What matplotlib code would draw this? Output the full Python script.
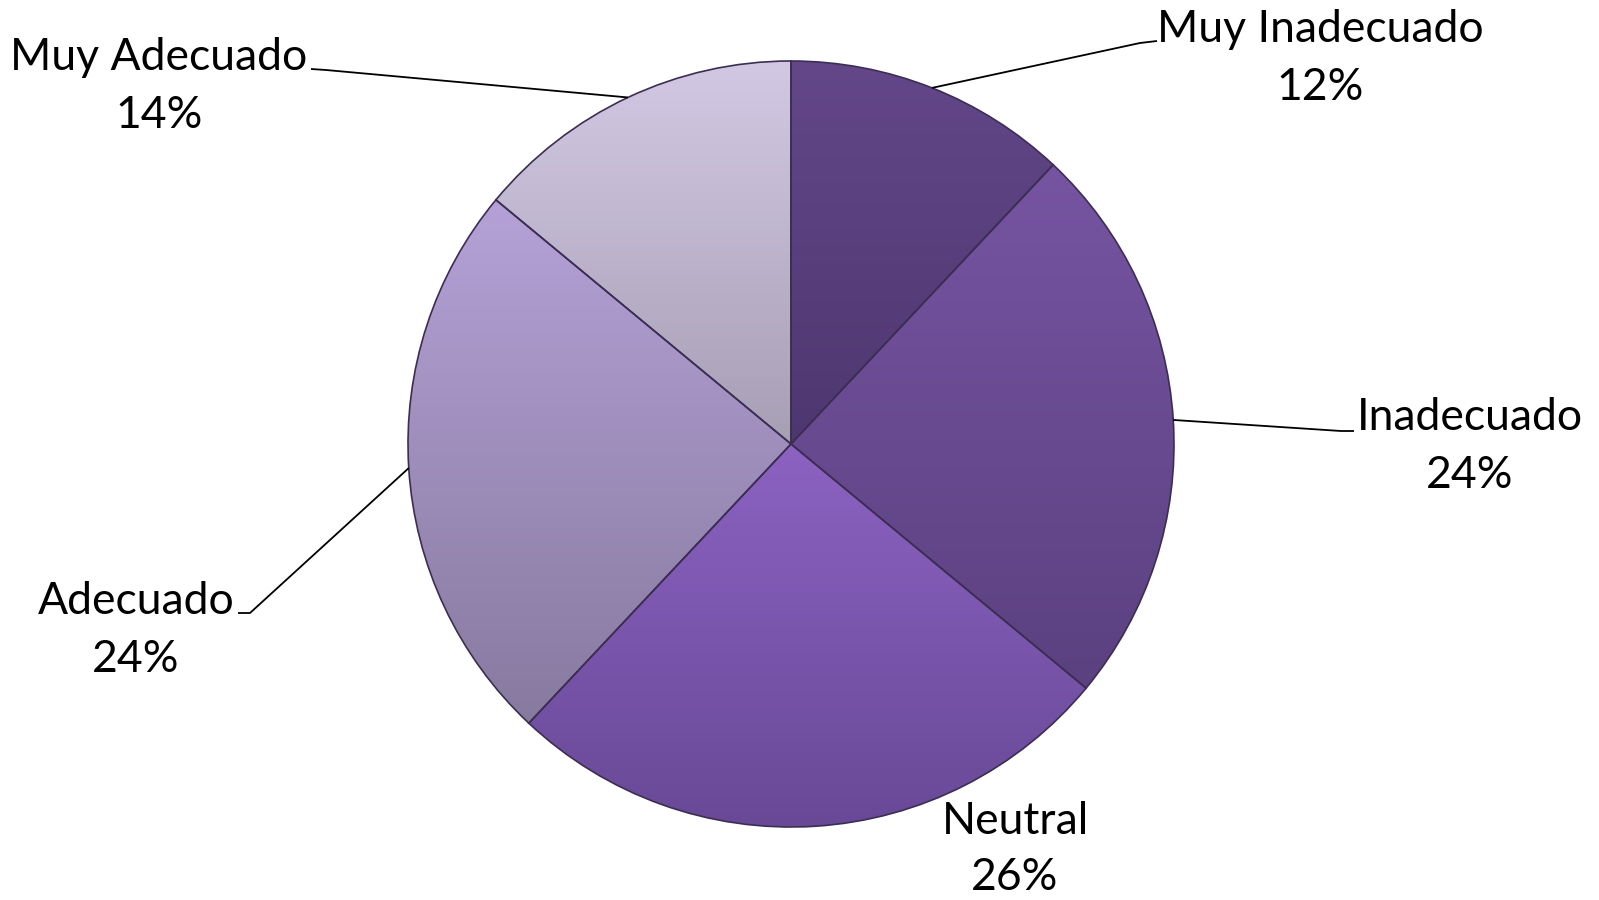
import numpy as np
import matplotlib
matplotlib.use("Agg")
import matplotlib.pyplot as plt
from matplotlib.colors import LinearSegmentedColormap

categories = ["Muy Inadecuado", "Inadecuado", "Neutral", "Adecuado", "Muy Adecuado"]
values = [12, 24, 26, 24, 14]
pct_labels = ["12%", "24%", "26%", "24%", "14%"]

top_colors = ["#634789", "#7654a2", "#8c62c2", "#b5a1d7", "#d2c8e4"]
bot_colors = ["#4e3770", "#5b4180", "#684996", "#877a9f", "#a79fb4"]

W, H = 1599, 900
fig = plt.figure(figsize=(W / 100, H / 100), dpi=100)
ax = fig.add_axes([0, 0, 1, 1])
ax.set_xlim(0, W)
ax.set_ylim(0, H)
ax.set_aspect("equal")
ax.axis("off")

cx, cy, R = 791, H - 444, 383
wedges, _ = ax.pie(values, startangle=90, counterclock=False, center=(cx, cy),
                   radius=R, colors=["none"] * len(values),
                   wedgeprops=dict(edgecolor="#3b2e52", linewidth=1.2), frame=True)
ax.set_xlim(0, W)
ax.set_ylim(0, H)
ax.axis("off")

grad = np.linspace(1, 0, 256).reshape(-1, 1)
for w, tc, bc in zip(wedges, top_colors, bot_colors):
    verts = w.get_patch_transform().transform(w.get_path().vertices)
    x0, x1 = verts[:, 0].min(), verts[:, 0].max()
    y0, y1 = verts[:, 1].min(), verts[:, 1].max()
    cmap = LinearSegmentedColormap.from_list("g", [bc, tc])
    im = ax.imshow(grad, cmap=cmap, extent=(x0, x1, y0, y1), origin="upper",
                   aspect="auto", zorder=1, interpolation="bilinear")
    im.set_clip_path(w)
    w.set_zorder(2)

ax.set_xlim(0, W)
ax.set_ylim(0, H)

font = dict(family=["Lato", "DejaVu Sans"], fontsize=32, color="black")

# label anchor positions (pixels): name line, pct line, leader start/knee
label_pos = [
    (1320, 29, 88, (1157, 41), (1140, 43)),
    (1470, 418, 475, (1354, 431), (1341, 431)),
    (1015, 822, 878, None, None),
    (136, 602, 660, (238, 613), (250, 613)),
    (159, 57, 115, (311, 69), (326, 70)),
]

cum = np.cumsum([0] + values[:-1])
total = sum(values)
for i, (cat, pl) in enumerate(zip(categories, pct_labels)):
    x, y1, y2, p0, p1 = label_pos[i]
    ax.text(x, H - y1, cat, ha="center", va="center", **font)
    ax.text(x, H - y2, pl, ha="center", va="center", **font)
    if p0 is not None:
        mid = (cum[i] + values[i] / 2) / total * 2 * np.pi
        ex = cx + R * np.sin(mid)
        ey = cy + R * np.cos(mid)
        ax.plot([p0[0], p1[0], ex], [H - p0[1], H - p1[1], ey], color="black",
                lw=1.3, zorder=3, solid_capstyle="butt")

fig.savefig("out.png", dpi=100, facecolor="white")
